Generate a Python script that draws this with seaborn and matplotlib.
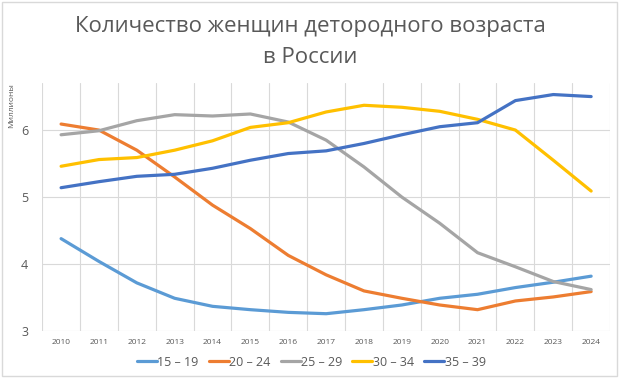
import numpy as np
import pandas as pd
import matplotlib.pyplot as plt
import seaborn as sns

# Data (millions)
years = list(range(2010, 2025))
age_15_19 = [4.38, 4.04, 3.72, 3.49, 3.37, 3.32, 3.28, 3.26, 3.32, 3.39, 3.49, 3.55, 3.65, 3.73, 3.82]
age_20_24 = [6.09, 6.00, 5.70, 5.30, 4.88, 4.53, 4.13, 3.84, 3.60, 3.49, 3.39, 3.32, 3.45, 3.51, 3.59]
age_25_29 = [5.93, 5.99, 6.14, 6.23, 6.21, 6.24, 6.12, 5.85, 5.45, 5.00, 4.61, 4.17, 3.96, 3.74, 3.62]
age_30_34 = [5.46, 5.56, 5.59, 5.70, 5.84, 6.04, 6.11, 6.27, 6.37, 6.34, 6.28, 6.16, 6.00, 5.55, 5.09]
age_35_39 = [5.14, 5.23, 5.31, 5.34, 5.43, 5.55, 5.65, 5.69, 5.80, 5.93, 6.05, 6.11, 6.44, 6.53, 6.50]

groups = ['15 – 19', '20 – 24', '25 – 29', '30 – 34', '35 – 39']
series = [age_15_19, age_20_24, age_25_29, age_30_34, age_35_39]
colors = ['#5B9BD5', '#ED7D31', '#A5A5A5', '#FFC000', '#4472C4']

df = pd.concat([pd.DataFrame({'year': years, 'value': vals, 'group': g})
                for g, vals in zip(groups, series)], ignore_index=True)

sns.set_theme(style='white')
plt.rcParams['font.family'] = ['Open Sans', 'DejaVu Sans']

fig = plt.figure(figsize=(6.2, 3.78), dpi=100)
ax = fig.add_axes([0.068, 0.124, 0.916, 0.656])

sns.lineplot(data=df, x='year', y='value', hue='group', palette=colors,
             linewidth=2.3, ax=ax, legend=True)

ax.set_xlim(2009.5, 2024.5)
ax.set_ylim(3, 6.7)
ax.set_xticks(years)
ax.set_xticks(np.arange(2009.5, 2025, 1), minor=True)
ax.set_yticks([3, 4, 5, 6])
ax.tick_params(axis='x', which='major', labelsize=6, colors='#595959', length=0, pad=6)
ax.tick_params(axis='x', which='minor', length=0)
ax.tick_params(axis='y', labelsize=9, colors='#595959', length=0, pad=10)
ax.grid(axis='y', which='major', color='#D9D9D9', linewidth=0.8)
ax.grid(axis='x', which='minor', color='#D9D9D9', linewidth=0.8)
ax.set_axisbelow(True)
for s in ax.spines.values():
    s.set_visible(False)

ax.set_xlabel('')
ax.set_ylabel('Миллионы', fontsize=6, color='#595959', loc='top', labelpad=4)

handles, labels = ax.get_legend_handles_labels()
ax.get_legend().remove()
leg = fig.legend(handles, labels, loc='center', bbox_to_anchor=(0.502, 0.042), ncol=5,
                 frameon=False, fontsize=9, handlelength=1.6, handletextpad=0.05,
                 columnspacing=0.8)
for t in leg.get_texts():
    t.set_color('#595959')

fig.text(0.5, 0.93, 'Количество женщин детородного возраста', ha='center', va='center',
         fontsize=16, color='#595959')
fig.text(0.5, 0.848, 'в России', ha='center', va='center', fontsize=16, color='#595959')

fig.patches.append(plt.Rectangle((0.003, 0.005), 0.992, 0.99, transform=fig.transFigure,
                                 fill=False, edgecolor='#D9D9D9', linewidth=1))

fig.savefig('out.png', dpi=100, facecolor='white')
